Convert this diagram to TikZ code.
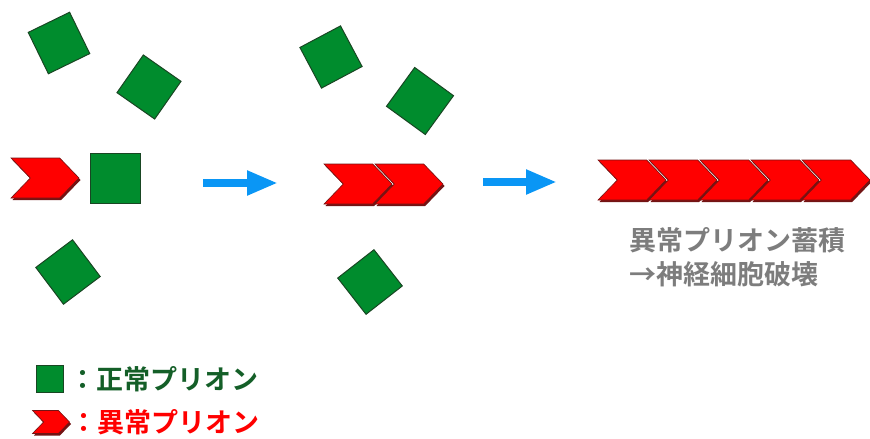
\documentclass[tikz,border=0pt]{standalone}
\usepackage{fontspec}
\usetikzlibrary{arrows.meta,positioning,shapes.symbols,shadows}
\newfontfamily\jp{Noto Sans CJK JP}[BoldFont={Noto Sans CJK JP Bold}]
\definecolor{prionGreen}{RGB}{0,140,45}
\definecolor{prionGreenDark}{RGB}{25,70,35}
\definecolor{prionRed}{RGB}{255,0,0}
\definecolor{prionRedDark}{RGB}{115,20,20}
\definecolor{stepBlue}{RGB}{10,150,245}
\definecolor{textGreen}{RGB}{20,95,40}
\definecolor{textGray}{RGB}{125,125,125}

\begin{document}
\begin{tikzpicture}[x=1pt,y=-1pt]
                        \tikzset{Normal/.style={%
                                shape=rectangle,%
                                draw=prionGreenDark,%
                                fill=prionGreen,%
                                line width=1pt,%
                                minimum size=46pt,%
                                inner sep=0pt,%
                            }}
                        \tikzset{Abnormal/.style={%
                                shape=signal,%
                                signal from=west,%
                                signal to=east,%
                                signal pointer angle=92,%
                                fill=prionRed,%
                                draw=prionRedDark,%
                                line width=0.6pt,%
                                drop shadow={shadow xshift=1.5pt, shadow yshift=-2pt, fill=prionRedDark, opacity=1},%
                                minimum height=40pt,%
                                minimum width=68pt,%
                                inner sep=0pt,%
                                node distance=51pt,%
                            }}
                        \tikzset{Step/.style={-{Triangle[length=31pt, width=23pt]}, line width=8pt, draw=stepBlue}}
                        \tikzset{Label/.style={font=\jp\bfseries\fontsize{27}{34}\selectfont, inner sep=0pt, anchor=west}}

                            \useasboundingbox (0,0) rectangle (870,439);

                            % before
                            \node[Normal, rotate=26] (n1) at (59,43) {};
                            \node[Normal, rotate=-35] (n2) at (149,87) {};
                            \node[Abnormal] (a1) at (45,178) {};
                            \node[Normal, minimum size=50pt] (n3) at (115,178) {};
                            \node[Normal, rotate=37] (n4) at (68,272) {};

                            % conversion
                            \node[Normal, rotate=28] (n5) at (331,57) {};
                            \node[Normal, rotate=-36, minimum size=48pt] (n6) at (420,101) {};
                            \node[Abnormal] (a2) at (358,184) {};
                            \node[Abnormal, right of=a2] (a3) {};
                            \node[Normal, rotate=38] (n7) at (370,282) {};

                            % accumulation
                            \node[Abnormal] (a4) at (632,180) {};
                            \node[Abnormal, right of=a4] (a5) {};
                            \node[Abnormal, right of=a5] (a6) {};
                            \node[Abnormal, right of=a6] (a7) {};
                            \node[Abnormal, right of=a7] (a8) {};
                            \node[Label, text=textGray, align=left] (res) at (629,257) {異常プリオン蓄積\\→神経細胞破壊};

                            \coordinate (s1) at (203,183);
                            \coordinate (e1) at (278,183);
                            \coordinate (s2) at (483,182);
                            \coordinate (e2) at (557,182);
                            \draw[Step] (s1) -- (e1);
                            \draw[Step] (s2) -- (e2);

                            % legend
                            \node[Normal, minimum size=27pt] (ln) at (50,379) {};
                            \node[Label, text=textGreen, right=5pt of ln] (lnt) {：正常プリオン};
                            \node[Abnormal, minimum width=37pt, minimum height=23pt] (la) at (51,422) {};
                            \node[Label, text=prionRed, right=0pt of la] (lat) {：異常プリオン};
                    \end{tikzpicture}
\end{document}
